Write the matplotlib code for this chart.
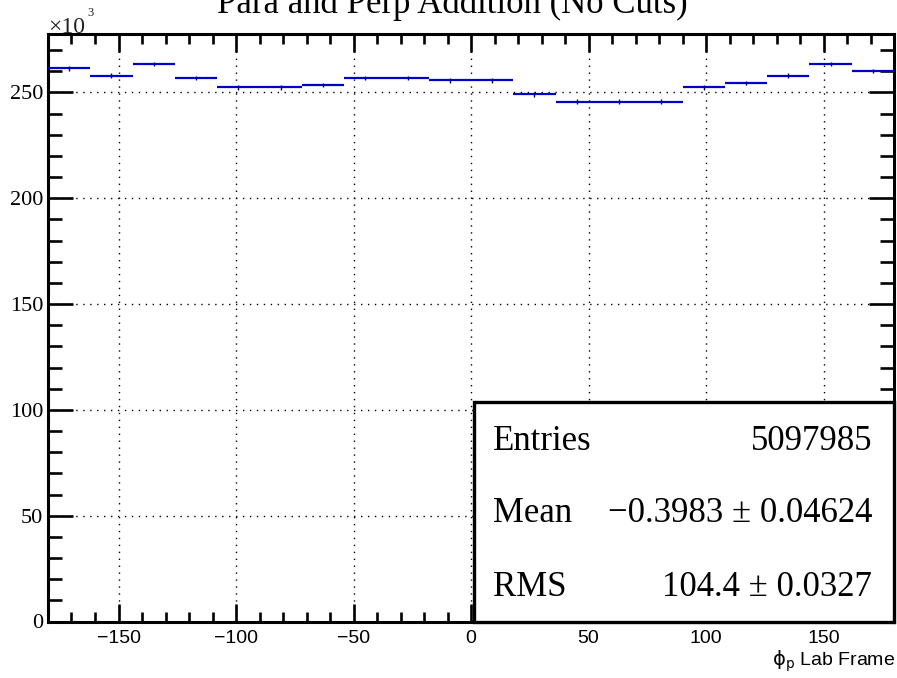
import numpy as np
import matplotlib
matplotlib.use("Agg")
import matplotlib.pyplot as plt
from matplotlib.patches import Rectangle
from matplotlib.ticker import MultipleLocator

# ---- data (counts in units of 10^3) ----
bin_edges = np.linspace(-180, 180, 21)
counts_k = [261.4, 257.9, 263.5, 256.8, 252.4, 252.4, 253.6, 256.8, 256.9, 255.7,
            255.7, 249.1, 245.7, 245.7, 245.7, 252.4, 254.5, 257.9, 263.5, 260.1]
title = "Para and Perp Addition (No Cuts)"
xlabel = r"$\mathrm{\phi_{p}}$ Lab Frame"
stat_names = ["Entries", "Mean", "RMS"]
stat_values = ["5097985", "\u22120.3983 \u00b1 0.04624", "104.4 \u00b1 0.0327"]
xticks = [-150, -100, -50, 0, 50, 100, 150]
yticks = [0, 50, 100, 150, 200, 250]

W, H = 897, 678
fig = plt.figure(figsize=(W / 100, H / 100), dpi=100)
fig.patch.set_facecolor("white")

ax_l, ax_r, ax_t, ax_b = 48, 894, 34.3, 621.5
ax = fig.add_axes([ax_l / W, (H - ax_b) / H, (ax_r - ax_l) / W, (ax_b - ax_t) / H])

counts = np.array(counts_k)
centers = 0.5 * (bin_edges[:-1] + bin_edges[1:])
half = 0.5 * np.diff(bin_edges)
err = np.sqrt(counts * 1000.0) / 1000.0

ax.errorbar(centers, counts, xerr=half, yerr=err, fmt="none",
            ecolor="#0000cc", elinewidth=1.6, capsize=0, zorder=3)
ax.errorbar(centers, counts, yerr=err * 2.2, fmt="none",
            ecolor="#000066", elinewidth=1.0, capsize=0, zorder=4)

ax.set_xlim(-180, 180)
ax.set_ylim(0, 277.5)
ax.set_xticks(xticks)
ax.set_yticks(yticks)
ax.xaxis.set_minor_locator(MultipleLocator(10))
ax.yaxis.set_minor_locator(MultipleLocator(10))
ax.set_xticklabels([str(t).replace("-", "\u2212") for t in xticks])
ax.set_yticklabels([str(t) for t in yticks])

ax.grid(True, which="major", color="black", linestyle=(0, (1, 4)), linewidth=1.0, zorder=1)
for s in ax.spines.values():
    s.set_linewidth(2.2)

ax.tick_params(which="both", direction="in", top=True, right=True, width=1.9, color="black")
ax.tick_params(axis="x", which="major", length=13, pad=6, labelsize=14,
               labelfontfamily="Liberation Sans")
ax.tick_params(axis="x", which="minor", length=7)
ax.tick_params(axis="y", which="major", length=18, pad=3.4, labelsize=16,
               labelfontfamily="Liberation Serif")
ax.tick_params(axis="y", which="minor", length=10)

# title
fig.text(452 / W, 1 - 13 / H, title, ha="center", va="baseline",
         family="Liberation Serif", fontsize=25)

# x10^3 multiplier
fig.text(48 / W, 1 - 33 / H, "\u00d710", ha="left", va="baseline",
         family="Liberation Serif", fontsize=17, color="#222222")
fig.text(87.5 / W, 1 - 16 / H, "3", ha="left", va="baseline",
         family="Liberation Serif", fontsize=9, color="#222222")

# x axis label
fig.text(895 / W, 1 - 666 / H, xlabel, ha="right", va="baseline",
         family="Liberation Sans", fontsize=14)

# stats box
bx0, by_top = 474, 402
box = Rectangle((bx0 / W, (H - ax_b) / H), (ax_r - bx0) / W, (ax_b - by_top) / H,
                transform=fig.transFigure, facecolor="white", edgecolor="black",
                linewidth=2.4, zorder=5)
fig.add_artist(box)
row_y = [442, 513, 587]
for name, val, yy in zip(stat_names, stat_values, row_y):
    fig.text(493 / W, 1 - yy / H, name, ha="left", va="center",
             family="Liberation Serif", fontsize=25, zorder=6)
    fig.text(872 / W, 1 - yy / H, val, ha="right", va="center",
             family="Liberation Serif", fontsize=25, zorder=6)

fig.savefig("out.png", dpi=100)
